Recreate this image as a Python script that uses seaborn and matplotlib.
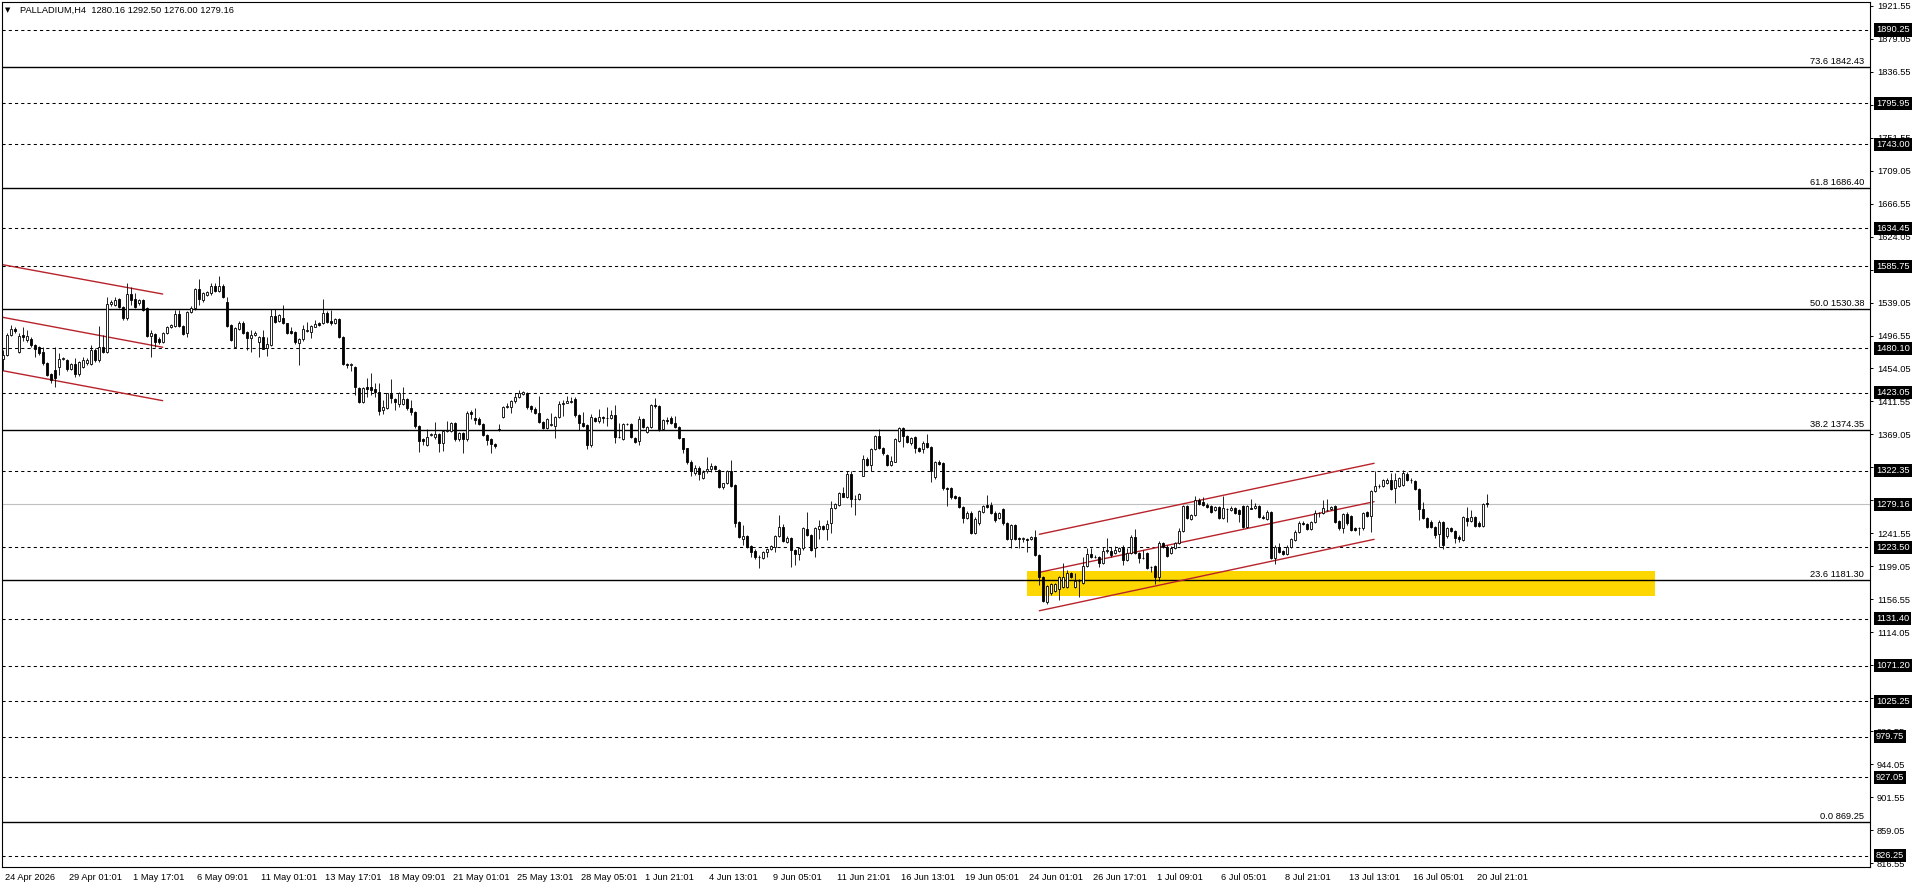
import numpy as np
import pandas as pd
import matplotlib
matplotlib.use("Agg")
import matplotlib.pyplot as plt
import matplotlib.transforms as mtransforms
import seaborn as sns

# ---- chart data ----
symbol_title = "PALLADIUM,H4  1280.16 1292.50 1276.00 1279.16"

opens = [
    1465.9, 1471.5, 1497.2, 1505.4, 1475.8, 1496.8, 1490.8, 1491.6, 1484.3, 1481.3, 1475.8, 1460.7,
    1447.0, 1452.1, 1456.4, 1465.9, 1465.0, 1453.0, 1459.9, 1446.5, 1455.6, 1460.7, 1459.9, 1477.9,
    1465.0, 1482.2, 1475.8, 1537.2, 1535.9, 1543.2, 1533.7, 1518.7, 1549.6, 1543.2, 1538.0, 1542.3,
    1531.6, 1496.4, 1498.1, 1492.1, 1488.2, 1500.2, 1507.1, 1508.8, 1524.3, 1508.8, 1500.2, 1526.9,
    1531.6, 1556.5, 1542.3, 1549.2, 1550.9, 1560.8, 1553.5, 1560.8, 1540.0, 1510.1, 1482.2, 1505.4,
    1513.1, 1501.1, 1492.9, 1497.6, 1488.6, 1494.2, 1480.9, 1484.3, 1521.7, 1515.3, 1518.7, 1512.3,
    1502.0, 1501.5, 1487.3, 1491.6, 1502.0, 1501.5, 1508.0, 1512.3, 1512.3, 1526.0, 1515.7, 1512.3,
    1517.4, 1494.2, 1459.9, 1459.0, 1455.6, 1428.5, 1411.3, 1429.8, 1429.8, 1427.2, 1424.2, 1400.6,
    1403.6, 1420.8, 1414.3, 1408.3, 1407.9, 1414.3, 1402.7, 1397.6, 1380.0, 1362.6, 1355.5, 1368.0,
    1366.2, 1369.7, 1357.6, 1373.5, 1373.5, 1383.4, 1362.8, 1370.5, 1362.8, 1398.0, 1389.9, 1388.6,
    1382.5, 1368.4, 1362.8, 1356.8, 1375.7, 1391.1, 1404.9, 1404.0, 1411.7, 1417.8, 1421.2, 1422.1,
    1405.7, 1401.4, 1397.2, 1385.5, 1377.0, 1380.8, 1380.4, 1391.1, 1408.3, 1410.0, 1411.3, 1415.2,
    1393.7, 1384.2, 1381.7, 1355.1, 1390.3, 1386.0, 1392.0, 1390.3, 1389.9, 1394.1, 1365.4, 1362.8,
    1382.5, 1382.5, 1364.1, 1360.2, 1388.6, 1372.2, 1378.3, 1406.5, 1405.7, 1376.5, 1387.7, 1389.9,
    1384.2, 1379.1, 1364.1, 1351.2, 1333.0, 1320.0, 1326.0, 1312.5, 1322.4, 1324.1, 1328.4, 1323.3,
    1300.9, 1306.1, 1322.4, 1303.9, 1255.8, 1234.8, 1238.2, 1225.3, 1219.3, 1210.7, 1210.3, 1217.2,
    1221.5, 1224.5, 1238.2, 1250.2, 1230.9, 1235.2, 1220.2, 1215.0, 1222.3, 1247.2, 1239.1, 1222.3,
    1247.7, 1251.5, 1246.8, 1254.5, 1273.9, 1278.2, 1293.2, 1288.9, 1317.7, 1285.5, 1285.5, 1316.0,
    1337.0, 1329.7, 1349.9, 1367.1, 1351.2, 1342.6, 1329.7, 1334.0, 1360.6, 1377.8, 1367.1, 1357.6,
    1365.4, 1351.2, 1349.9, 1358.5, 1352.5, 1313.8, 1333.6, 1331.9, 1299.6, 1299.6, 1289.8, 1288.0,
    1276.0, 1261.8, 1268.3, 1242.5, 1254.5, 1269.6, 1277.7, 1277.7, 1268.3, 1261.0, 1273.0, 1254.5,
    1234.8, 1251.9, 1235.6, 1234.8, 1234.0, 1233.9, 1237.4, 1213.7, 1185.8, 1153.6, 1164.3, 1167.8,
    1169.5, 1172.9, 1172.9, 1190.1, 1172.9, 1180.2, 1177.2, 1199.6, 1214.6, 1211.6, 1210.7, 1203.9,
    1218.5, 1218.9, 1215.9, 1219.3, 1224.5, 1207.3, 1215.9, 1237.4, 1215.9, 1209.4, 1215.9, 1198.7,
    1199.6, 1185.8, 1228.8, 1224.5, 1215.9, 1223.2, 1229.6, 1244.7, 1276.9, 1260.1, 1265.3, 1284.6,
    1282.5, 1278.2, 1276.9, 1271.7, 1275.2, 1261.0, 1272.5, 1271.7, 1274.7, 1271.7, 1276.9, 1249.4,
    1274.2, 1273.9, 1276.9, 1262.3, 1259.7, 1269.6, 1209.4, 1224.5, 1218.9, 1215.0, 1224.5, 1233.0,
    1243.8, 1255.4, 1253.7, 1246.8, 1256.3, 1268.3, 1268.3, 1271.7, 1272.6, 1276.9, 1257.6, 1248.1,
    1266.1, 1264.0, 1248.1, 1248.0, 1248.1, 1269.6, 1264.4, 1296.2, 1302.7, 1302.7, 1306.1, 1310.4,
    1299.7, 1302.7, 1303.5, 1318.1, 1310.4, 1309.5, 1298.8, 1272.6, 1261.8, 1256.7, 1249.4, 1240.8,
    1256.7, 1238.7, 1248.1, 1245.1, 1237.4, 1233.1, 1261.0, 1258.0, 1263.1, 1255.4, 1251.1, 1280.16,
]
highs = [
    1477.9, 1499.4, 1510.1, 1507.0, 1499.4, 1508.0, 1503.7, 1494.0, 1486.0, 1483.0, 1482.2, 1462.0,
    1448.0, 1482.2, 1473.6, 1469.3, 1466.0, 1461.0, 1467.2, 1464.0, 1469.3, 1467.0, 1484.3, 1480.0,
    1508.8, 1497.2, 1546.6, 1542.0, 1546.6, 1545.0, 1535.0, 1563.8, 1559.5, 1550.9, 1544.0, 1544.0,
    1533.0, 1503.7, 1500.0, 1494.0, 1501.5, 1509.0, 1512.0, 1529.4, 1529.4, 1510.0, 1528.0, 1534.6,
    1558.2, 1568.9, 1553.0, 1554.0, 1563.8, 1563.8, 1573.2, 1563.0, 1546.0, 1512.0, 1508.0, 1515.7,
    1515.7, 1502.0, 1503.7, 1502.4, 1496.0, 1503.7, 1494.2, 1531.2, 1531.2, 1524.0, 1535.9, 1513.0,
    1508.0, 1503.0, 1493.0, 1510.1, 1514.4, 1510.0, 1516.6, 1514.0, 1543.2, 1528.1, 1529.4, 1519.0,
    1519.0, 1496.0, 1461.6, 1460.7, 1457.0, 1430.0, 1430.0, 1441.4, 1447.8, 1434.9, 1434.9, 1413.5,
    1422.9, 1440.1, 1416.0, 1424.2, 1429.8, 1416.0, 1413.5, 1399.0, 1381.0, 1364.1, 1375.7, 1370.5,
    1384.7, 1371.0, 1375.0, 1386.9, 1385.0, 1385.0, 1372.0, 1372.0, 1399.0, 1400.6, 1402.7, 1391.1,
    1384.0, 1370.0, 1364.0, 1358.0, 1382.5, 1406.0, 1409.2, 1413.0, 1422.1, 1426.4, 1425.5, 1424.0,
    1407.0, 1404.9, 1418.6, 1387.0, 1390.0, 1396.3, 1393.0, 1412.6, 1413.5, 1418.6, 1417.8, 1417.8,
    1395.0, 1398.4, 1383.0, 1395.4, 1391.0, 1401.4, 1393.0, 1404.0, 1400.6, 1407.0, 1383.4, 1384.2,
    1384.2, 1384.0, 1365.5, 1392.9, 1390.0, 1380.0, 1408.3, 1415.6, 1407.0, 1389.0, 1392.0, 1392.9,
    1392.9, 1380.0, 1365.0, 1352.0, 1336.0, 1330.0, 1328.0, 1323.3, 1339.6, 1331.9, 1330.0, 1325.0,
    1307.0, 1323.3, 1336.2, 1305.0, 1257.0, 1252.4, 1239.5, 1226.5, 1221.0, 1213.7, 1219.0, 1223.0,
    1226.6, 1239.5, 1265.3, 1253.3, 1238.2, 1237.0, 1221.5, 1224.0, 1249.5, 1269.1, 1240.5, 1249.5,
    1258.8, 1253.0, 1258.8, 1283.8, 1281.0, 1294.5, 1301.8, 1322.4, 1322.4, 1291.1, 1293.0, 1342.6,
    1340.0, 1351.0, 1368.5, 1375.7, 1352.5, 1344.0, 1341.3, 1364.0, 1378.2, 1379.0, 1368.5, 1366.2,
    1367.0, 1352.5, 1360.0, 1369.7, 1354.0, 1335.0, 1336.2, 1333.0, 1301.0, 1301.0, 1291.1, 1289.5,
    1277.5, 1270.0, 1270.0, 1263.1, 1271.5, 1278.2, 1291.1, 1282.5, 1270.0, 1269.6, 1273.9, 1256.0,
    1253.5, 1253.5, 1237.0, 1237.4, 1235.5, 1238.0, 1245.9, 1215.0, 1187.0, 1175.5, 1177.5, 1178.1,
    1186.5, 1203.0, 1194.4, 1192.3, 1190.1, 1182.4, 1211.6, 1222.3, 1222.3, 1213.7, 1212.0, 1224.5,
    1235.2, 1224.5, 1225.3, 1224.5, 1226.0, 1223.2, 1239.0, 1246.8, 1217.0, 1220.2, 1217.5, 1199.6,
    1201.0, 1232.2, 1230.9, 1226.0, 1225.3, 1231.0, 1248.1, 1278.5, 1278.5, 1266.5, 1289.8, 1286.7,
    1288.0, 1281.2, 1278.0, 1277.5, 1276.5, 1289.8, 1274.5, 1276.9, 1276.0, 1273.0, 1278.0, 1278.2,
    1285.9, 1280.3, 1278.0, 1265.3, 1271.7, 1271.0, 1226.0, 1228.8, 1220.0, 1226.0, 1235.5, 1245.5,
    1257.0, 1258.0, 1255.0, 1258.0, 1271.7, 1269.5, 1284.6, 1285.5, 1277.5, 1278.5, 1259.0, 1267.5,
    1268.7, 1265.5, 1249.5, 1249.5, 1269.0, 1271.0, 1297.5, 1322.0, 1305.2, 1312.0, 1312.5, 1319.0,
    1319.0, 1314.0, 1323.3, 1321.1, 1312.5, 1311.0, 1300.0, 1282.5, 1263.0, 1258.8, 1251.0, 1258.8,
    1258.0, 1249.5, 1250.3, 1246.5, 1239.0, 1263.5, 1276.0, 1271.7, 1264.5, 1257.0, 1280.5, 1292.50,
]
lows = [
    1452.1, 1470.2, 1495.9, 1500.0, 1474.0, 1489.9, 1488.6, 1482.0, 1469.3, 1472.0, 1458.6, 1444.0,
    1435.0, 1430.7, 1445.7, 1465.0, 1451.0, 1451.5, 1443.5, 1444.4, 1454.3, 1459.0, 1458.0, 1463.0,
    1463.0, 1474.0, 1474.0, 1535.0, 1534.0, 1532.0, 1517.0, 1517.0, 1535.9, 1532.0, 1536.0, 1528.0,
    1494.0, 1468.4, 1482.2, 1486.0, 1486.5, 1499.0, 1506.0, 1507.0, 1507.0, 1497.0, 1495.1, 1525.0,
    1530.0, 1535.9, 1540.0, 1547.0, 1549.0, 1553.0, 1552.0, 1545.0, 1507.0, 1489.0, 1481.0, 1504.0,
    1499.0, 1477.9, 1475.8, 1496.4, 1469.3, 1478.7, 1470.6, 1483.0, 1513.0, 1514.0, 1511.0, 1498.1,
    1498.1, 1485.6, 1458.6, 1490.0, 1501.0, 1492.9, 1507.0, 1509.0, 1511.0, 1513.0, 1510.1, 1511.0,
    1493.0, 1458.0, 1454.3, 1451.3, 1419.9, 1410.0, 1410.0, 1417.8, 1419.9, 1417.8, 1393.7, 1395.4,
    1402.0, 1409.2, 1400.6, 1404.9, 1407.0, 1401.0, 1394.1, 1378.0, 1346.9, 1355.5, 1354.0, 1367.1,
    1362.8, 1346.9, 1347.8, 1372.0, 1372.0, 1361.0, 1361.0, 1344.7, 1361.0, 1388.6, 1382.5, 1381.0,
    1367.0, 1355.5, 1344.7, 1352.0, 1374.0, 1390.0, 1402.7, 1397.2, 1410.0, 1416.0, 1420.0, 1402.0,
    1398.4, 1396.0, 1384.0, 1376.0, 1376.0, 1379.5, 1364.1, 1390.0, 1393.3, 1409.0, 1410.0, 1392.0,
    1374.8, 1379.0, 1349.9, 1353.0, 1385.0, 1383.4, 1383.4, 1380.0, 1389.0, 1357.6, 1365.0, 1362.0,
    1381.3, 1364.0, 1358.0, 1355.1, 1378.0, 1371.0, 1377.0, 1402.7, 1373.9, 1375.0, 1382.5, 1382.0,
    1378.0, 1363.0, 1345.6, 1331.0, 1316.0, 1317.0, 1310.0, 1311.7, 1318.9, 1321.1, 1323.0, 1300.0,
    1299.0, 1305.0, 1301.0, 1250.2, 1235.0, 1226.6, 1223.0, 1211.6, 1208.2, 1196.6, 1209.0, 1210.7,
    1220.0, 1218.0, 1237.0, 1230.0, 1229.5, 1197.8, 1200.9, 1207.3, 1220.2, 1238.0, 1219.0, 1211.6,
    1234.8, 1245.5, 1233.1, 1241.6, 1272.5, 1277.0, 1288.0, 1287.5, 1276.0, 1265.3, 1284.0, 1315.0,
    1328.0, 1322.4, 1348.5, 1350.0, 1343.0, 1328.0, 1328.0, 1333.0, 1359.0, 1352.5, 1358.0, 1356.0,
    1344.7, 1346.9, 1344.7, 1351.0, 1308.2, 1312.0, 1329.5, 1298.0, 1276.9, 1286.5, 1285.5, 1274.5,
    1254.5, 1260.5, 1241.0, 1241.0, 1253.0, 1268.0, 1273.8, 1267.0, 1256.7, 1259.5, 1253.0, 1233.0,
    1222.3, 1233.0, 1222.3, 1230.9, 1218.0, 1232.5, 1212.0, 1175.1, 1153.0, 1150.6, 1162.0, 1166.5,
    1155.8, 1171.5, 1171.5, 1183.5, 1171.5, 1160.0, 1176.0, 1198.0, 1209.5, 1209.4, 1198.7, 1202.5,
    1215.9, 1210.7, 1214.5, 1218.0, 1200.9, 1206.0, 1214.5, 1214.5, 1203.0, 1208.1, 1196.0, 1192.3,
    1176.4, 1180.7, 1223.0, 1211.0, 1214.5, 1222.0, 1228.0, 1243.0, 1259.5, 1258.5, 1264.0, 1278.0,
    1276.5, 1274.0, 1268.0, 1270.5, 1259.5, 1259.5, 1256.7, 1270.5, 1267.0, 1256.7, 1248.0, 1248.1,
    1272.5, 1272.5, 1261.0, 1259.7, 1258.5, 1208.0, 1202.2, 1216.5, 1213.5, 1213.5, 1223.0, 1231.5,
    1242.5, 1252.5, 1245.5, 1245.5, 1255.0, 1263.1, 1267.0, 1270.5, 1271.5, 1255.0, 1246.5, 1241.7,
    1253.0, 1244.5, 1244.5, 1239.5, 1246.5, 1263.0, 1243.8, 1295.0, 1299.7, 1301.5, 1305.0, 1297.0,
    1281.2, 1301.5, 1302.0, 1309.0, 1306.9, 1297.0, 1258.8, 1259.5, 1248.0, 1248.0, 1235.2, 1223.6,
    1221.0, 1235.2, 1243.5, 1229.6, 1230.9, 1231.5, 1251.1, 1256.5, 1249.5, 1249.5, 1249.5, 1276.00,
]
closes = [
    1471.5, 1497.2, 1504.5, 1501.9, 1495.9, 1494.2, 1495.9, 1483.9, 1479.6, 1474.5, 1461.6, 1446.1,
    1439.2, 1441.4, 1465.9, 1467.2, 1453.0, 1459.9, 1447.0, 1462.9, 1465.0, 1465.0, 1477.9, 1465.0,
    1482.2, 1475.8, 1536.7, 1540.2, 1542.3, 1533.7, 1518.7, 1549.6, 1542.3, 1533.7, 1542.3, 1529.4,
    1496.4, 1499.4, 1488.6, 1488.2, 1500.2, 1507.1, 1510.1, 1523.9, 1508.8, 1498.5, 1526.9, 1531.6,
    1556.5, 1543.6, 1551.8, 1552.2, 1560.4, 1554.4, 1560.8, 1546.6, 1508.8, 1490.8, 1506.2, 1513.1,
    1500.2, 1492.9, 1497.2, 1499.4, 1494.2, 1479.6, 1485.2, 1521.7, 1514.4, 1522.6, 1512.3, 1500.2,
    1499.8, 1488.2, 1491.6, 1505.4, 1503.7, 1508.8, 1511.4, 1510.6, 1526.0, 1514.4, 1512.3, 1517.4,
    1494.2, 1459.9, 1459.0, 1459.9, 1429.8, 1411.3, 1428.9, 1427.2, 1426.4, 1424.2, 1399.7, 1404.4,
    1422.1, 1415.6, 1411.3, 1422.9, 1414.3, 1402.7, 1397.6, 1380.0, 1361.1, 1361.0, 1365.4, 1369.3,
    1370.1, 1357.6, 1373.5, 1374.5, 1383.4, 1362.8, 1370.5, 1362.8, 1397.2, 1395.0, 1387.7, 1382.5,
    1368.4, 1361.5, 1356.3, 1353.8, 1374.5, 1404.9, 1405.5, 1411.7, 1417.8, 1422.9, 1424.2, 1404.0,
    1401.4, 1397.2, 1385.5, 1377.8, 1388.6, 1382.0, 1391.1, 1408.3, 1410.0, 1412.2, 1412.0, 1393.7,
    1383.4, 1380.4, 1355.1, 1391.1, 1386.0, 1392.0, 1390.3, 1390.8, 1394.1, 1365.4, 1366.2, 1382.5,
    1382.0, 1365.4, 1359.3, 1388.6, 1379.1, 1378.3, 1407.0, 1405.7, 1376.5, 1387.7, 1386.9, 1383.4,
    1379.1, 1364.1, 1350.8, 1333.0, 1322.0, 1326.0, 1318.0, 1321.1, 1324.1, 1328.4, 1324.1, 1301.8,
    1306.1, 1322.4, 1302.6, 1255.4, 1236.5, 1238.2, 1224.5, 1218.0, 1211.6, 1211.5, 1217.6, 1221.5,
    1225.3, 1238.2, 1250.2, 1231.8, 1236.1, 1220.2, 1215.0, 1222.3, 1248.1, 1239.1, 1220.2, 1248.1,
    1251.5, 1246.8, 1253.7, 1273.9, 1279.5, 1293.2, 1288.9, 1317.7, 1285.5, 1286.0, 1291.9, 1337.0,
    1329.7, 1349.9, 1367.1, 1351.2, 1344.7, 1329.7, 1334.9, 1362.8, 1377.8, 1367.1, 1359.8, 1364.1,
    1351.2, 1348.2, 1358.5, 1352.5, 1322.0, 1333.6, 1331.0, 1299.6, 1299.0, 1288.0, 1286.8, 1276.0,
    1261.8, 1268.3, 1242.5, 1259.7, 1270.0, 1276.9, 1275.2, 1268.3, 1258.8, 1268.3, 1254.5, 1234.8,
    1251.9, 1234.8, 1234.5, 1235.5, 1233.5, 1236.5, 1213.7, 1185.0, 1154.5, 1174.2, 1176.4, 1176.4,
    1185.0, 1185.8, 1190.1, 1185.0, 1180.2, 1179.8, 1199.6, 1214.6, 1210.7, 1211.0, 1203.9, 1218.9,
    1220.0, 1213.7, 1220.2, 1222.3, 1207.3, 1215.9, 1237.4, 1215.9, 1209.4, 1210.0, 1197.4, 1198.0,
    1185.8, 1228.8, 1224.5, 1212.5, 1223.2, 1229.6, 1244.7, 1276.9, 1261.0, 1264.9, 1284.6, 1279.5,
    1277.7, 1275.2, 1269.6, 1276.0, 1261.0, 1274.7, 1273.0, 1273.9, 1268.3, 1266.6, 1249.4, 1276.9,
    1273.6, 1276.9, 1262.3, 1261.5, 1269.6, 1209.4, 1224.5, 1218.0, 1215.0, 1224.5, 1233.9, 1243.8,
    1255.4, 1253.7, 1246.8, 1256.3, 1268.3, 1268.0, 1273.9, 1272.3, 1276.0, 1256.7, 1248.1, 1266.1,
    1254.5, 1245.9, 1245.9, 1248.5, 1267.4, 1264.4, 1296.2, 1302.7, 1303.2, 1310.4, 1310.4, 1298.4,
    1310.4, 1312.5, 1319.0, 1310.4, 1310.0, 1298.4, 1272.6, 1261.0, 1249.4, 1249.4, 1239.5, 1256.7,
    1226.6, 1248.1, 1245.1, 1235.2, 1233.9, 1262.3, 1257.6, 1262.3, 1251.1, 1251.1, 1279.0, 1279.16,
]

# time axis labels, one every 16 H4 bars
time_labels = [
    "24 Apr 2026", "29 Apr 01:01", "1 May 17:01", "6 May 09:01", "11 May 01:01", "13 May 17:01",
    "18 May 09:01", "21 May 01:01", "25 May 13:01", "28 May 05:01", "1 Jun 21:01", "4 Jun 13:01",
    "9 Jun 05:01", "11 Jun 21:01", "16 Jun 13:01", "19 Jun 05:01", "24 Jun 01:01", "26 Jun 17:01",
    "1 Jul 09:01", "6 Jul 05:01", "8 Jul 21:01", "13 Jul 13:01", "16 Jul 05:01", "20 Jul 21:01",
]
label_every = 16

# price scale ticks
price_ticks = [816.55 + 42.5 * i for i in range(27)]

# support / resistance levels (dashed, black tag on the scale)
sr_levels = [1890.25, 1795.95, 1743.00, 1634.45, 1585.75, 1480.10, 1423.05, 1322.35,
             1223.50, 1131.40, 1071.20, 1025.25, 979.75, 927.05, 826.25]
current_price = 1279.16

# fibonacci levels
fib_pcts = [73.6, 61.8, 50.0, 38.2, 23.6, 0.0]
fib_prices = [1842.43, 1686.40, 1530.38, 1374.35, 1181.30, 869.25]

# demand zone (yellow box)
zone_bars = [256, 413]
zone_low, zone_high = 1161.0, 1193.0

# drawn channels
chan1_bars = [-0.15, 39.85]
chan1_upper = [1587.8, 1550.0]
chan1_mid = [1520.0, 1481.4]
chan1_lower = [1451.2, 1412.6]
chan2_bars = [259.0, 342.7]
chan2_upper = [1240.4, 1331.9]
chan2_mid = [1191.4, 1282.4]
chan2_lower = [1141.9, 1233.9]

# ---- style ----
sns.set_style("white")
plt.rcParams["font.family"] = ["Liberation Sans", "DejaVu Sans"]
FS = 6.7

W, H = 1916, 888
fig = plt.figure(figsize=(W / 100, H / 100), dpi=100)
ax_left, ax_right, ax_top, ax_bottom = 2, 1870, 2, 867
ax = fig.add_axes([ax_left / W, (H - ax_bottom) / H,
                   (ax_right - ax_left) / W, (ax_bottom - ax_top) / H])

df = pd.DataFrame({"open": opens, "high": highs, "low": lows, "close": closes})
df["bar"] = np.arange(len(df))
up = df["close"] >= df["open"]

# zone + horizontal levels
ax.fill_between(zone_bars, zone_low, zone_high, color="#FFD700", lw=0, zorder=1)
for lvl in sr_levels:
    ax.axhline(lvl, color="black", lw=0.75, ls=(0, (3, 3)), zorder=1.5)
for lvl in fib_prices:
    ax.axhline(lvl, color="black", lw=1.0, zorder=1.5)
ax.axhline(current_price, color="#c0c0c0", lw=0.8, zorder=1.4)

# channels
chan_color = "#b8232b"
for xs, ys in [(chan1_bars, chan1_upper), (chan1_bars, chan1_mid), (chan1_bars, chan1_lower),
               (chan2_bars, chan2_upper), (chan2_bars, chan2_mid), (chan2_bars, chan2_lower)]:
    sns.lineplot(x=xs, y=ys, color=chan_color, lw=1.0, ax=ax, sort=False,
                 estimator=None, legend=False, zorder=2)

# candles
ax.vlines(df["bar"], df["low"], df["high"], color="black", lw=0.6, zorder=3)
body_w = 0.55
ax.bar(df.loc[up, "bar"], (df["close"] - df["open"])[up], bottom=df.loc[up, "open"],
       width=body_w, color="white", edgecolor="black", lw=0.6, zorder=4)
ax.bar(df.loc[~up, "bar"], (df["open"] - df["close"])[~up], bottom=df.loc[~up, "close"],
       width=body_w, color="black", edgecolor="black", lw=0.6, zorder=4)

# axes limits: 4 px per bar
px_per_bar = 4.0
first_bar_px = 3.3
ax.set_xlim((ax_left - first_bar_px) / px_per_bar, (ax_right - first_bar_px) / px_per_bar)
ax.set_ylim(811.7, 1926.3)

# price scale on the right
ax.yaxis.tick_right()
ax.set_yticks(price_ticks)
ax.set_yticklabels([f"{p:.2f}" for p in price_ticks])
ax.tick_params(axis="y", direction="out", length=1.8, width=0.7, pad=3.2,
               labelsize=FS, colors="black")

# time scale
xt = [i * label_every for i in range(len(time_labels))]
ax.set_xticks(xt)
ax.set_xticklabels(time_labels, ha="left")
ax.tick_params(axis="x", direction="out", length=3, width=0.7, pad=1.0,
               labelsize=FS, colors="black")
offset = mtransforms.ScaledTranslation(2 / 100, 0, fig.dpi_scale_trans)
for lab in ax.get_xticklabels():
    lab.set_transform(lab.get_transform() + offset)

for sp in ax.spines.values():
    sp.set_visible(True)
    sp.set_color("black")
    sp.set_linewidth(0.8)

# black price tags on the scale (they cover the scale labels underneath, as in the terminal)
ytrans = mtransforms.blended_transform_factory(ax.transAxes, ax.transData)
tag_x = (1876 - ax_left) / (ax_right - ax_left)
for lvl in sr_levels + [current_price]:
    ax.text(tag_x, lvl, f"{lvl:.2f}", transform=ytrans, ha="left", va="center",
            fontsize=FS, color="white", clip_on=False, zorder=10,
            bbox=dict(boxstyle="square,pad=0.22", fc="black", ec="none"))

# fibonacci labels
fib_x = (1864 - ax_left) / (ax_right - ax_left)
for pct, lvl in zip(fib_pcts, fib_prices):
    ax.text(fib_x, lvl + 1.6, f"{pct:.1f} {lvl:.2f}", transform=ytrans, ha="right",
            va="bottom", fontsize=FS, color="black", zorder=6)

# symbol header
ax.text(3 / (ax_right - ax_left), 1 - 8 / (ax_bottom - ax_top), "\u25bc",
        transform=ax.transAxes, fontsize=5, va="center", ha="left",
        family=["DejaVu Sans"], color="black", zorder=6)
ax.text(18 / (ax_right - ax_left), 1 - 8 / (ax_bottom - ax_top), symbol_title,
        transform=ax.transAxes, fontsize=FS, va="center", ha="left", color="black", zorder=6)

ax.set_xlabel("")
ax.set_ylabel("")
fig.savefig("out.png", dpi=100, facecolor="white")
